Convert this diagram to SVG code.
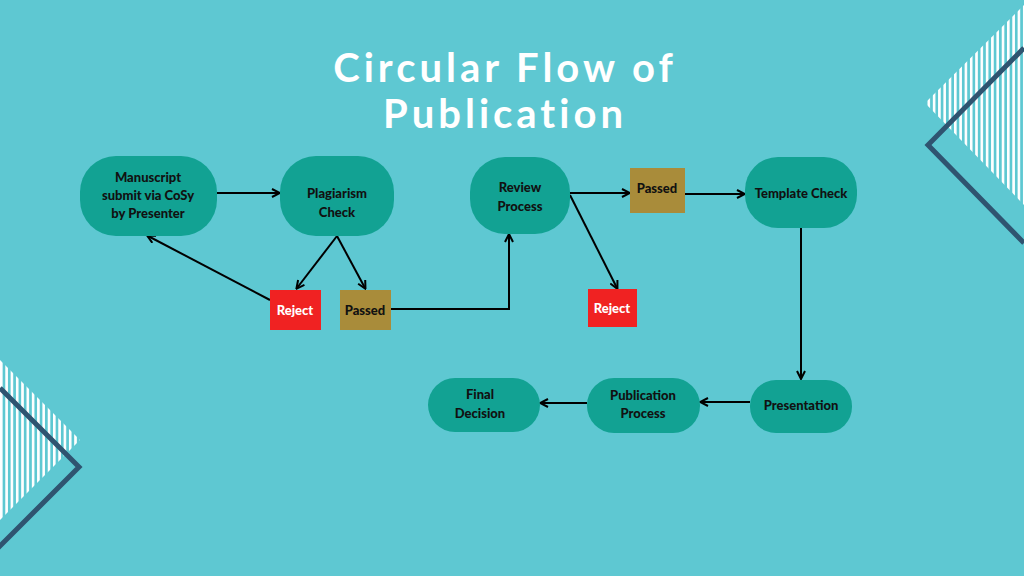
<svg xmlns="http://www.w3.org/2000/svg" width="1024" height="576" viewBox="0 0 1024 576">
<style>
.n{fill:#12a293}
.t{font-family:Lato,"Liberation Sans",sans-serif;font-weight:900;font-size:13px;fill:#111;text-anchor:middle}
.c{stroke:#000;stroke-width:2;fill:none;marker-end:url(#a)}
.deco{stroke:#2f5470;stroke-width:5;fill:none}
</style>
<defs>
<marker id="a" markerWidth="10" markerHeight="10" refX="8" refY="5" orient="auto" markerUnits="userSpaceOnUse"><path d="M1,1 L9,5 L1,9" fill="none" stroke="#000" stroke-width="2"/></marker>
<pattern id="s" width="5.3" height="10" patternUnits="userSpaceOnUse"><rect width="2.6" height="10" fill="#fff"/></pattern>
</defs>
<rect width="1024" height="576" fill="#5ec8d2"/>
<polygon points="925,103 1024,5 1024,205" fill="url(#s)"/>
<polyline class="deco" points="1024,48 928,145 1024,243"/>
<polygon points="80,440 0,360 0,520" fill="url(#s)"/>
<polyline class="deco" points="0,388 79,467 -2,548"/>
<text x="505" y="82" font-family="Lato,'Liberation Sans',sans-serif" font-weight="700" font-size="40" fill="#fff" text-anchor="middle" letter-spacing="4">Circular Flow of</text>
<text x="505" y="128" font-family="Lato,'Liberation Sans',sans-serif" font-weight="700" font-size="40" fill="#fff" text-anchor="middle" letter-spacing="4">Publication</text>
<g id="connectors">
<path class="c" d="M217,193 H279"/>
<path class="c" d="M337,236 L297,288"/>
<path class="c" d="M337,236 L365,288"/>
<path class="c" d="M270,300 L148,236"/>
<path class="c" d="M391,309 H509 V235"/>
<path class="c" d="M570,193 H629"/>
<path class="c" d="M570,195 L617,288"/>
<path class="c" d="M685,194 H744"/>
<path class="c" d="M801,228 V378"/>
<path class="c" d="M750,402 H701"/>
<path class="c" d="M587,403 H541"/>
</g>
<g id="manuscript"><rect class="n" x="80" y="156" width="137" height="80" rx="36"/><text class="t" x="148" y="182">Manuscript</text><text class="t" x="148" y="200">submit via CoSy</text><text class="t" x="148" y="218">by Presenter</text></g>
<g id="plagiarism"><rect class="n" x="280" y="156" width="114" height="80" rx="36"/><text class="t" x="337" y="198">Plagiarism</text><text class="t" x="337" y="217">Check</text></g>
<g id="review"><rect class="n" x="470" y="157" width="100" height="77" rx="35"/><text class="t" x="520" y="192">Review</text><text class="t" x="520" y="211">Process</text></g>
<g id="template"><rect class="n" x="745" y="157" width="112" height="71" rx="33"/><text class="t" x="801" y="198">Template Check</text></g>
<g id="presentation"><rect class="n" x="750" y="380" width="102" height="53" rx="26"/><text class="t" x="801" y="410">Presentation</text></g>
<g id="publication"><rect class="n" x="587" y="378" width="113" height="55" rx="27"/><text class="t" x="643" y="400">Publication</text><text class="t" x="643" y="418">Process</text></g>
<g id="final"><rect class="n" x="428" y="378" width="112" height="54" rx="27"/><text class="t" x="480" y="399">Final</text><text class="t" x="480" y="418">Decision</text></g>
<g id="reject1"><rect x="270" y="290" width="51" height="40" fill="#f02222"/><text class="t" x="295" y="315" fill="#fff" style="fill:#fff">Reject</text></g>
<g id="passed1"><rect x="340" y="290" width="51" height="40" fill="#a98c3a"/><text class="t" x="365" y="315">Passed</text></g>
<g id="passed2"><rect x="630" y="168" width="55" height="45" fill="#a98c3a"/><text class="t" x="657" y="193">Passed</text></g>
<g id="reject2"><rect x="588" y="289" width="49" height="38" fill="#f02222"/><text class="t" x="612" y="313" style="fill:#fff">Reject</text></g>
</svg>
